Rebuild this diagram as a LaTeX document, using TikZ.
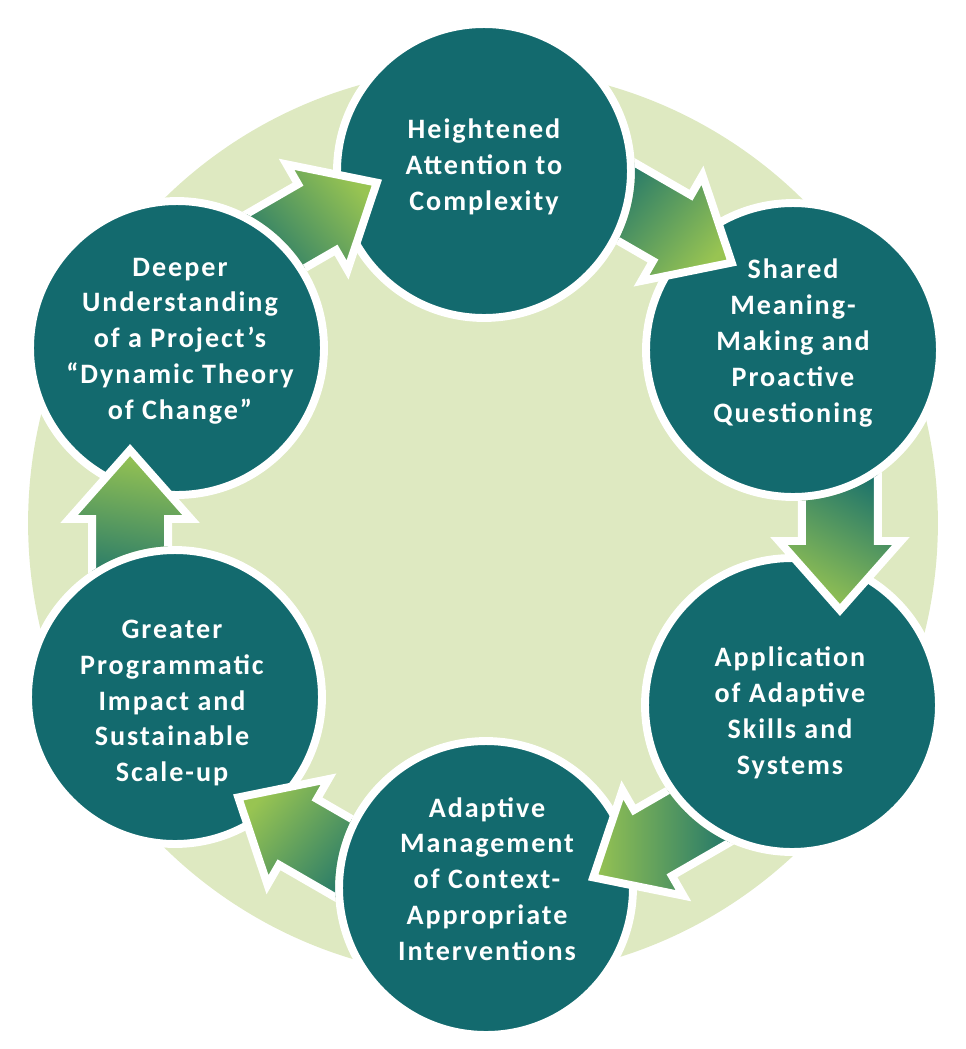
\documentclass[tikz,border=0pt]{standalone}
\usepackage{fontspec}
\setmainfont{Carlito}
\newfontfamily\ringfont{Carlito}[LetterSpace=7]
\usetikzlibrary{calc}

\definecolor{deepteal}{RGB}{19,106,110}
\definecolor{paleleaf}{RGB}{222,233,193}
\definecolor{arrowteal}{RGB}{24,112,108}
\definecolor{arrowlime}{RGB}{152,196,82}

\tikzset{
  disc/.style={circle, minimum size=5.88cm, inner sep=0pt, fill=deepteal, draw=white, line width=4.5pt},
  blurb/.style={align=center, text=white, inner sep=0pt,
    font=\ringfont\bfseries\fontsize{16pt}{20.4pt}\selectfont},
  cyclearrow/.style={draw=white, line width=4.5pt, line join=miter}
}

\begin{document}
\begin{tikzpicture}[x=0.02cm, y=-0.02cm]
\useasboundingbox (0,0) rectangle (966,1049);
% pale backdrop
\fill[paleleaf] (483,523) circle[radius=9.1cm];

% the six stages
\node[disc] (top) at (484,171) {};
\node[disc] (ur) at (793,350) {};
\node[disc] (lr) at (792,705) {};
\node[disc] (bot) at (486,888) {};
\node[disc] (ll) at (175,697) {};
\node[disc] (ul) at (177,348) {};

\coordinate (hub) at (485,530);

% arrows, tail hidden under the stage they leave
\foreach \ang/\src/\shang in {60/top/-130, 0/ur/150, -60/lr/90, -120/bot/50, 180/ll/-10, 120/ul/-50}{
  \pgfmathsetmacro\d{\ang-90}
  \pgfmathsetmacro\dr{\ang-180}
  \begin{scope}[even odd rule]
    \clip (0,0) rectangle (966,1049) (\src.center) circle[radius=3.02cm];
    \coordinate (c) at ($(hub)+(\ang:7.1cm)$);
    \draw[cyclearrow, top color=arrowlime, bottom color=arrowteal, shading angle=\shang]
      ($(c)+(\d:-1.4cm)+(\ang:0.76cm)$) -- ($(c)+(\d:0.22cm)+(\ang:0.76cm)$)
      -- ($(c)+(\d:0.22cm)+(\ang:1.22cm)$) -- ($(c)+(\d:1.6cm)$)
      -- ($(c)+(\d:0.22cm)+(\dr:1.22cm)$) -- ($(c)+(\d:0.22cm)+(\dr:0.76cm)$)
      -- ($(c)+(\d:-1.4cm)+(\dr:0.76cm)$) -- cycle;
  \end{scope}
}

% texts
\node[blurb] (top-t) at (484,167) {Heightened\\Attention to\\Complexity};
\node[blurb] (ur-t) at (793,343) {Shared\\Meaning-\\Making and\\Proactive\\Questioning};
\node[blurb] (lr-t) at (790,713) {Application\\of Adaptive\\Skills and\\Systems};
\node[blurb] (bot-t) at (487,879) {Adaptive\\Management\\of Context-\\Appropriate\\Interventions};
\node[blurb] (ll-t) at (172,703) {Greater\\Programmatic\\Impact and\\Sustainable\\Scale-up};
\node[blurb] (ul-t) at (180,341) {Deeper\\Understanding\\of a Project’s\\“Dynamic Theory\\of Change”};
\end{tikzpicture}
\end{document}
